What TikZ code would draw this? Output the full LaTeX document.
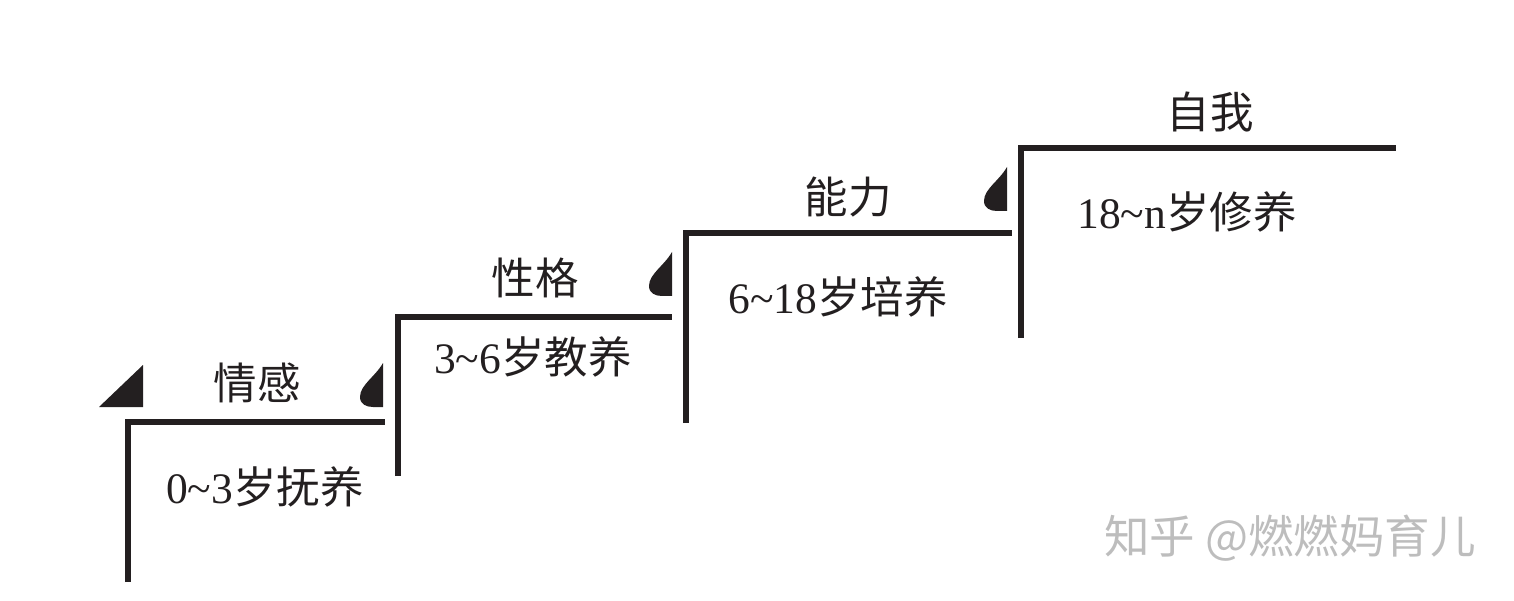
\documentclass[tikz,border=0pt]{standalone}
\usepackage{fontspec}
\setmainfont{Liberation Serif}
\newfontfamily\cjk{Noto Sans CJK SC}
\definecolor{ink}{HTML}{231F20}
\definecolor{wm}{HTML}{BDBDBD}
\begin{document}
\begin{tikzpicture}[x=1pt,y=-1pt,
  stair/.style={draw=ink,line width=6pt,line cap=butt,line join=miter},
  lbl/.style={text=ink,inner sep=0pt,font=\fontsize{43.5}{44}\selectfont},
  leaf/.pic={\fill[ink] (0,-44) .. controls (-8,-30) and (-23,-22) .. (-23,-10) .. controls (-23,-3) and (-17,0) .. (-10,0) -- (0,0) -- cycle;}]
\useasboundingbox (0,0) rectangle (1514,601);
% stair corners
\coordinate (b1) at (128,582); \coordinate (c1) at (128,422); \coordinate (e1) at (385,422);
\coordinate (b2) at (398,476); \coordinate (c2) at (398,317); \coordinate (e2) at (672,317);
\coordinate (b3) at (686,423); \coordinate (c3) at (686,233); \coordinate (e3) at (1012,233);
\coordinate (b4) at (1021,338); \coordinate (c4) at (1021,148); \coordinate (e4) at (1396,148);
\draw[stair] (b1) -- (c1) -- (e1);
\draw[stair] (b2) -- (c2) -- (e2);
\draw[stair] (b3) -- (c3) -- (e3);
\draw[stair] (b4) -- (c4) -- (e4);
% markers
\fill[ink] (99,407) -- (143,407) -- (143,365) -- cycle;
\pic at (383,407) {leaf};
\pic at (672,296) {leaf};
\pic at (1007,211) {leaf};
% labels
\node[lbl] (t1) at (257,383) {\cjk 情感};
\node[lbl] (a1) at (265,487) {0\textasciitilde3{\cjk 岁抚养}};
\node[lbl] (t2) at (535,278) {\cjk 性格};
\node[lbl] (a2) at (533,357) {3\textasciitilde6{\cjk 岁教养}};
\node[lbl] (t3) at (848,197) {\cjk 能力};
\node[lbl] (a3) at (838,297) {6\textasciitilde18{\cjk 岁培养}};
\node[lbl] (t4) at (1210,112) {\cjk 自我};
\node[lbl] (a4) at (1187,212) {18\textasciitilde n{\cjk 岁修养}};
% watermark
\node[inner sep=0pt,text=wm,font=\fontsize{45.5}{46}\selectfont\cjk] (wmk) at (1290,538) {知乎 @燃燃妈育儿};
\end{tikzpicture}
\end{document}
